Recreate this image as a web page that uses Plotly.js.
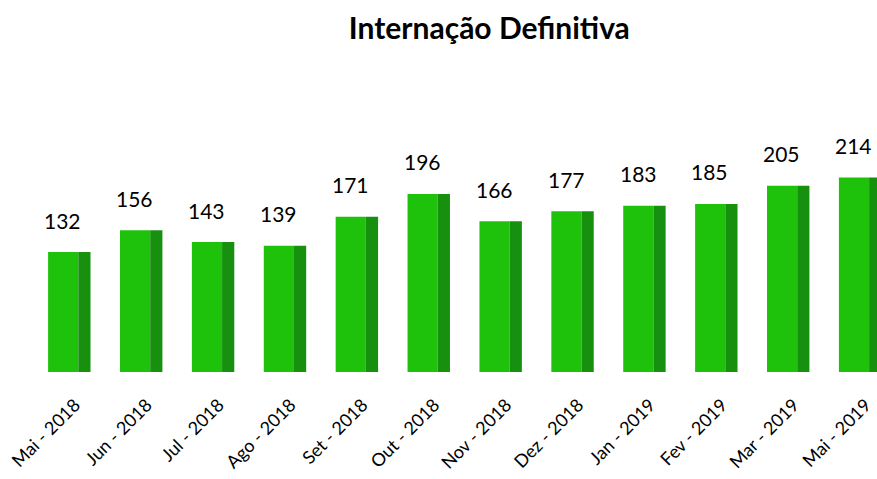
<!DOCTYPE html>
<html>
<head>
<meta charset="utf-8">
<script src="https://cdn.plot.ly/plotly-3.0.1.min.js"></script>
<style>
  body { margin: 0; background: #fff; }
  #grafico { width: 877px; height: 479px; }
</style>
</head>
<body>
<div id="grafico"></div>
<script>
  // valores
  var meses = ['Mai - 2018', 'Jun - 2018', 'Jul - 2018', 'Ago - 2018', 'Set - 2018', 'Out - 2018',
               'Nov - 2018', 'Dez - 2018', 'Jan - 2019', 'Fev - 2019', 'Mar - 2019', 'Mai - 2019'];
  var internacoes = [132, 156, 143, 139, 171, 196, 166, 177, 183, 185, 205, 214];

  var fonte = 'Lato, "Open Sans", sans-serif';

  // face da frente da barra
  var frente = {
    x: meses, y: internacoes, type: 'bar',
    width: 0.42, offset: -0.29,
    marker: { color: '#1fc20b' },
    hoverinfo: 'x+y'
  };
  // lateral mais escura, para dar o efeito 3D
  var lateral = {
    x: meses, y: internacoes, type: 'bar',
    width: 0.17, offset: 0.13,
    marker: { color: '#179010' },
    hoverinfo: 'skip'
  };

  var rotulos = meses.map(function (m, i) {
    return {
      x: m, y: internacoes[i], text: String(internacoes[i]),
      showarrow: false, xshift: -6, yshift: 32, yanchor: 'middle',
      font: { family: fonte, size: 21, color: '#000' }
    };
  });

  var layout = {
    title: {
      text: '<b>Internação Definitiva</b>',
      x: 0.558, xanchor: 'center', y: 0.94, yanchor: 'middle',
      font: { family: fonte, size: 30, color: '#000' }
    },
    barmode: 'overlay',
    showlegend: false,
    margin: { l: 33, r: 0, t: 154, b: 107 },
    paper_bgcolor: '#fff',
    plot_bgcolor: '#fff',
    xaxis: {
      type: 'category', range: [-0.5, 11.24],
      showgrid: false, zeroline: false, showline: false,
      tickangle: -45, ticklabelshift: 6, ticklabelstandoff: 18,
      tickfont: { family: fonte, size: 18, color: '#000' }
    },
    yaxis: {
      range: [0, 240], visible: false
    },
    annotations: rotulos
  };

  Plotly.newPlot('grafico', [frente, lateral], layout, { displayModeBar: false, staticPlot: true });
</script>
</body>
</html>
